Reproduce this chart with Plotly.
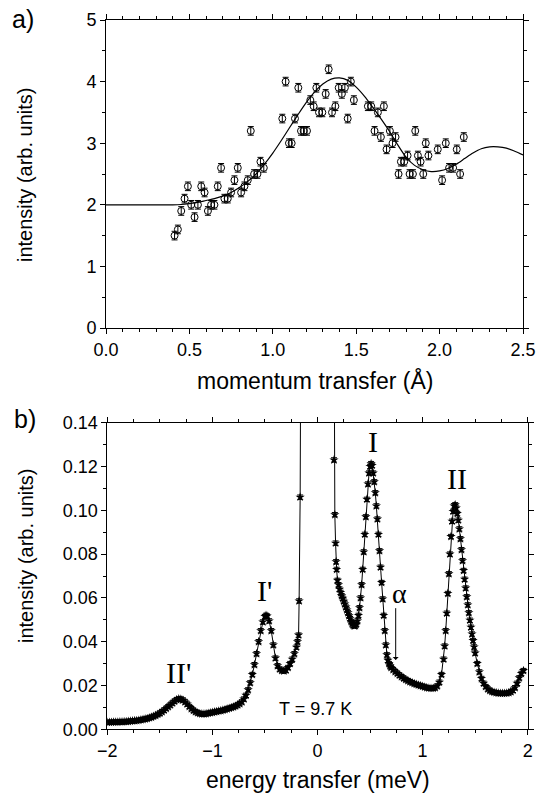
import plotly.graph_objects as go

# ---------------- panel a) data ----------------
q_data = [0.411, 0.431, 0.451, 0.471, 0.491, 0.511, 0.531, 0.551, 0.571, 0.591,
          0.611, 0.630, 0.650, 0.670, 0.690, 0.710, 0.730, 0.750, 0.770, 0.790,
          0.810, 0.830, 0.850, 0.868, 0.888, 0.908, 0.926, 0.946, 1.057, 1.077,
          1.097, 1.113, 1.133, 1.153, 1.169, 1.185, 1.205, 1.225, 1.245, 1.261,
          1.277, 1.297, 1.317, 1.335, 1.355, 1.375, 1.395, 1.414, 1.432, 1.449,
          1.468, 1.486, 1.570, 1.590, 1.610, 1.630, 1.648, 1.666, 1.682, 1.702,
          1.718, 1.736, 1.754, 1.768, 1.788, 1.808, 1.820, 1.840, 1.854, 1.870,
          1.886, 1.902, 1.917, 1.933, 1.989, 2.015, 2.037, 2.057, 2.081, 2.103,
          2.123, 2.145]
i_data = [1.5, 1.6, 1.9, 2.1, 2.3, 2.0, 1.8, 2.0, 2.3, 2.2,
          1.9, 2.0, 2.0, 2.3, 2.6, 2.1, 2.1, 2.2, 2.4, 2.6,
          2.2, 2.3, 2.4, 3.2, 2.5, 2.5, 2.7, 2.6, 3.4, 4.0,
          3.0, 3.0, 3.4, 3.9, 3.2, 3.2, 3.2, 3.7, 3.6, 3.9,
          3.5, 3.5, 3.8, 4.2, 3.5, 3.6, 3.9, 3.8, 3.9, 3.4,
          4.0, 3.7, 3.6, 3.6, 3.2, 3.5, 3.1, 3.6, 2.9, 3.2,
          3.0, 3.1, 2.5, 2.7, 2.7, 2.8, 2.5, 2.5, 3.2, 2.8,
          2.7, 2.5, 3.0, 2.8, 2.9, 2.4, 3.0, 2.6, 2.6, 2.9,
          2.5, 3.1]
i_err = [0.07] * len(q_data)

q_fit = [0.0, 0.1, 0.2, 0.3, 0.4, 0.45, 0.50, 0.55, 0.60, 0.65, 0.70, 0.75,
         0.80, 0.85, 0.90, 0.95, 1.00, 1.05, 1.10, 1.15, 1.20, 1.25, 1.30,
         1.35, 1.40, 1.45, 1.50, 1.55, 1.60, 1.65, 1.70, 1.75, 1.80, 1.85,
         1.90, 1.95, 2.00, 2.05, 2.10, 2.15, 2.20, 2.25, 2.30, 2.35, 2.40,
         2.45, 2.50]
i_fit = [2.0, 2.0, 2.0, 2.0, 2.0, 2.005, 2.02, 2.04, 2.07, 2.10, 2.14, 2.20,
         2.28, 2.38, 2.50, 2.66, 2.84, 3.04, 3.25, 3.46, 3.66, 3.83, 3.96,
         4.04, 4.06, 4.02, 3.91, 3.76, 3.58, 3.39, 3.19, 2.97, 2.77, 2.64,
         2.57, 2.54, 2.55, 2.59, 2.66, 2.75, 2.84, 2.91, 2.94, 2.94, 2.92,
         2.87, 2.81]

# ---------------- panel b) data ----------------
e_data = [
    -2.00, -1.98, -1.96, -1.94, -1.92, -1.90, -1.88, -1.86, -1.84, -1.82,
    -1.80, -1.78, -1.76, -1.74, -1.72, -1.70, -1.68, -1.66, -1.64, -1.62,
    -1.60, -1.58, -1.56, -1.54, -1.52, -1.50, -1.48, -1.46, -1.44, -1.42,
    -1.40, -1.38, -1.36, -1.34, -1.32, -1.30, -1.28, -1.26, -1.24, -1.22,
    -1.20, -1.18, -1.16, -1.14, -1.12, -1.10, -1.08, -1.06, -1.04, -1.02,
    -1.00, -0.98, -0.96, -0.94, -0.92, -0.90, -0.88, -0.86, -0.84, -0.82,
    -0.80, -0.78, -0.76, -0.74, -0.72, -0.70, -0.68, -0.66, -0.64, -0.62,
    -0.60, -0.58, -0.56, -0.54, -0.52, -0.50, -0.49, -0.48, -0.46, -0.44,
    -0.42, -0.40, -0.38, -0.36, -0.34, -0.32, -0.30, -0.28, -0.26, -0.24,
    -0.22, -0.20, -0.19, -0.18, -0.175, -0.165, -0.15, -0.10, 0.00, 0.10,
    0.15, 0.157, 0.165, 0.172, 0.177, 0.182, 0.19, 0.20, 0.21, 0.22,
    0.23, 0.24, 0.25, 0.26, 0.27, 0.28, 0.29, 0.30, 0.31, 0.32,
    0.33, 0.34, 0.35, 0.36, 0.37, 0.38, 0.39, 0.40, 0.41, 0.42,
    0.43, 0.44, 0.45, 0.46, 0.47, 0.48, 0.49, 0.50, 0.51, 0.52,
    0.53, 0.54, 0.55, 0.56, 0.57, 0.58, 0.59, 0.60, 0.61, 0.62,
    0.63, 0.64, 0.65, 0.66, 0.67, 0.68, 0.69, 0.70, 0.72, 0.74,
    0.76, 0.78, 0.80, 0.82, 0.84, 0.86, 0.88, 0.90, 0.92, 0.94,
    0.96, 0.98, 1.00, 1.02, 1.04, 1.06, 1.08, 1.10, 1.12, 1.14,
    1.16, 1.18, 1.20, 1.21, 1.22, 1.23, 1.24, 1.25, 1.26, 1.27,
    1.28, 1.29, 1.30, 1.31, 1.32, 1.33, 1.34, 1.35, 1.36, 1.37,
    1.38, 1.39, 1.40, 1.41, 1.42, 1.43, 1.44, 1.45, 1.46, 1.47,
    1.48, 1.49, 1.50, 1.52, 1.54, 1.56, 1.58, 1.60, 1.62, 1.64,
    1.66, 1.68, 1.70, 1.72, 1.74, 1.76, 1.78, 1.80, 1.82, 1.84,
    1.86, 1.88, 1.90, 1.92, 1.94, 1.96]
s_data = [
    0.0032, 0.0032, 0.0032, 0.0033, 0.0033, 0.0033, 0.0034, 0.0034, 0.0035, 0.0035,
    0.0036, 0.0037, 0.0038, 0.0039, 0.0040, 0.0041, 0.0043, 0.0045, 0.0047, 0.0049,
    0.0052, 0.0055, 0.0059, 0.0063, 0.0068, 0.0073, 0.0080, 0.0087, 0.0095, 0.0103,
    0.0111, 0.0120, 0.0128, 0.0135, 0.0139, 0.0138, 0.0133, 0.0125, 0.0115, 0.0104,
    0.0094, 0.0086, 0.0080, 0.0075, 0.0072, 0.0070, 0.0070, 0.0071, 0.0073, 0.0075,
    0.0077, 0.0079, 0.0081, 0.0083, 0.0085, 0.0087, 0.0090, 0.0093, 0.0096, 0.0099,
    0.0102, 0.0106, 0.0111, 0.0117, 0.0125, 0.0138, 0.0155, 0.0180, 0.0212, 0.0250,
    0.0295, 0.0345, 0.0400, 0.0450, 0.0490, 0.0515, 0.0520, 0.0517, 0.0495, 0.0450,
    0.0385, 0.0325, 0.0290, 0.0275, 0.0268, 0.0266, 0.0270, 0.0282, 0.0300, 0.0320,
    0.0345, 0.0375, 0.0400, 0.0430, 0.0586, 0.1060, 0.3000, 1.0000, 3.0000, 1.0000,
    0.3000, 0.1230, 0.0980, 0.0850, 0.0765, 0.0730, 0.0680, 0.0660, 0.0640, 0.0625,
    0.0610, 0.0598, 0.0585, 0.0572, 0.0558, 0.0545, 0.0532, 0.0518, 0.0505, 0.0492,
    0.0482, 0.0475, 0.0472, 0.0473, 0.0480, 0.0495, 0.0520, 0.0555, 0.0600, 0.0660,
    0.0730, 0.0810, 0.0890, 0.0970, 0.1050, 0.1120, 0.1170, 0.1200, 0.1213, 0.1205,
    0.1170, 0.1130, 0.1080, 0.1020, 0.0960, 0.0890, 0.0815, 0.0740, 0.0670, 0.0595,
    0.0520, 0.0450, 0.0385, 0.0340, 0.0315, 0.0300, 0.0290, 0.0282, 0.0272, 0.0263,
    0.0255, 0.0247, 0.0240, 0.0233, 0.0227, 0.0222, 0.0217, 0.0213, 0.0209, 0.0205,
    0.0202, 0.0199, 0.0196, 0.0193, 0.0190, 0.0188, 0.0187, 0.0187, 0.0190, 0.0198,
    0.0215, 0.0250, 0.0320, 0.0380, 0.0450, 0.0530, 0.0620, 0.0710, 0.0800, 0.0880,
    0.0950, 0.0995, 0.1020, 0.1025, 0.1010, 0.0985, 0.0955, 0.0915, 0.0870, 0.0820,
    0.0770, 0.0725, 0.0685, 0.0645, 0.0605, 0.0568, 0.0532, 0.0498, 0.0466, 0.0435,
    0.0405, 0.0376, 0.0348, 0.0300, 0.0262, 0.0232, 0.0210, 0.0195, 0.0184, 0.0177,
    0.0172, 0.0169, 0.0167, 0.0165, 0.0164, 0.0164, 0.0164, 0.0165, 0.0167, 0.0171,
    0.0178, 0.0190, 0.0210, 0.0235, 0.0255, 0.0268]
s_err = [0.001] * len(e_data)

peak_labels = ["II'", "I'", "I", "II", "α"]
peak_x = [-1.324, -0.509, 0.525, 1.325, 0.778]
peak_y = [0.0259, 0.0636, 0.1313, 0.1146, 0.0621]

SANS = "Liberation Sans, Arial, Helvetica, sans-serif"
SERIF = "Liberation Serif, Times New Roman, serif"
W, H = 544, 796

fig = go.Figure()

fig.add_trace(go.Scatter(
    x=q_fit, y=i_fit, mode="lines", line=dict(color="black", width=1.2, shape="spline", smoothing=0.8),
    xaxis="x", yaxis="y", showlegend=False, hoverinfo="skip"))
fig.add_trace(go.Scatter(
    x=q_data, y=i_data, mode="markers",
    marker=dict(symbol="circle-open", size=7, color="black", line=dict(width=1, color="black")),
    error_y=dict(type="data", array=i_err, visible=True, color="black", thickness=1, width=3),
    xaxis="x", yaxis="y", showlegend=False))

fig.add_trace(go.Scatter(
    x=e_data, y=s_data, mode="lines+markers",
    line=dict(color="black", width=1),
    marker=dict(symbol="star", size=7, color="black"),
    error_y=dict(type="data", array=s_err, visible=True, color="black", thickness=1, width=3),
    xaxis="x2", yaxis="y2", showlegend=False))

axis_common = dict(showgrid=False, zeroline=False, showline=True, linecolor="black", linewidth=1,
                   mirror="ticks", ticks="outside", ticklen=5, tickwidth=1, tickcolor="black",
                   automargin=False,
                   tickfont=dict(family=SANS, size=18, color="black"))

def px_x(a, b):
    return [a / W, b / W]

def px_y(top, bottom):
    return [1 - bottom / H, 1 - top / H]

fig.update_layout(
    width=W, height=H, margin=dict(l=0, r=0, t=0, b=0, autoexpand=False),
    paper_bgcolor="white", plot_bgcolor="white",
    xaxis=dict(axis_common, domain=px_x(106, 523), range=[0, 2.5], dtick=0.5, tick0=0,
               tickformat=".1f", anchor="y",
               minor=dict(dtick=0.1, ticklen=3, ticks="outside", tickcolor="black")),
    yaxis=dict(axis_common, domain=px_y(20, 328), range=[0, 5], dtick=1, tick0=0, anchor="x",
               minor=dict(dtick=0.5, ticklen=3, ticks="outside", tickcolor="black")),
    xaxis2=dict(axis_common, domain=px_x(107.3, 527.7), range=[-2, 2], dtick=1, tick0=0,
                anchor="y2",
                minor=dict(dtick=0.25, ticklen=3, ticks="outside", tickcolor="black")),
    yaxis2=dict(axis_common, domain=px_y(422.7, 729.3), range=[0, 0.14], dtick=0.02, tick0=0,
                tickformat=".2f", anchor="x2",
                minor=dict(dtick=0.01, ticklen=3, ticks="outside", tickcolor="black")),
)

ann = []
def paper_text(text, xpx, ypx, size, angle=0, family=SANS):
    ann.append(dict(text=text, x=xpx / W, y=1 - ypx / H, xref="paper", yref="paper",
                    showarrow=False, xanchor="center", yanchor="middle", textangle=angle,
                    font=dict(family=family, size=size, color="black")))

paper_text("a)", 23, 19, 25)
paper_text("b)", 24.5, 419, 25)
paper_text("momentum transfer (Å)", 314.5, 381, 23)
paper_text("energy transfer (meV)", 317.5, 780, 23)
paper_text("intensity (arb. units)", 25, 175, 20, angle=-90)
paper_text("intensity (arb. units)", 26, 556, 20, angle=-90)

for t, x, y in zip(peak_labels, peak_x, peak_y):
    ann.append(dict(text=t, x=x, y=y, xref="x2", yref="y2", showarrow=False,
                    xanchor="center", yanchor="middle",
                    font=dict(family=SERIF, size=30 if t != "α" else 28, color="black")))

ann.append(dict(text="T = 9.7 K", x=-0.016, y=0.0093, xref="x2", yref="y2", showarrow=False,
                xanchor="center", yanchor="middle", font=dict(family=SANS, size=18, color="black")))

# arrow pointing at alpha shoulder
ann.append(dict(text="", x=0.744, y=0.0316, ax=0.744, ay=0.056, xref="x2", yref="y2",
                axref="x2", ayref="y2", showarrow=True, arrowhead=1, arrowsize=1,
                arrowwidth=1, arrowcolor="black"))

fig.update_layout(annotations=ann)

fig.write_html("out.html", config={"displayModeBar": False},
               post_script="document.body.style.margin='0';document.body.style.overflow='hidden';")
